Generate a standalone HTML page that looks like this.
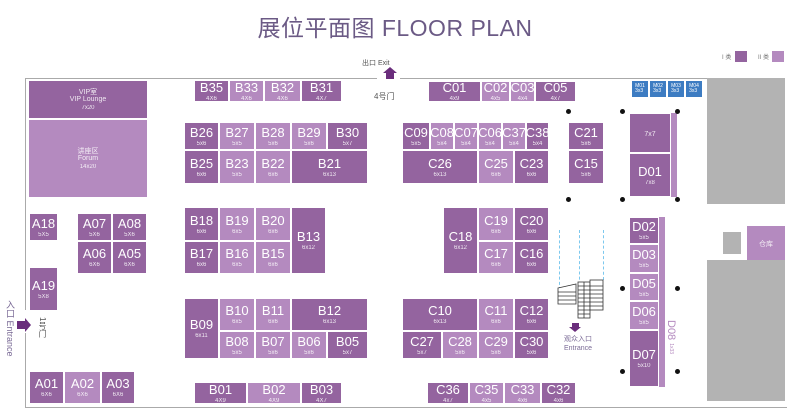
<!DOCTYPE html>
<html><head><meta charset="utf-8"><style>
*{margin:0;padding:0;box-sizing:border-box}
body{width:790px;height:411px;background:#fff;position:relative;overflow:hidden;font-family:"Liberation Sans","Noto Sans CJK SC",sans-serif}
.b{position:absolute;display:flex;flex-direction:column;align-items:center;justify-content:center;color:#fff;border:1px solid #fff;line-height:1;text-align:center}
.d{background:#94649f}.l{background:#b48abf}
.b i{font-style:normal;font-size:13px;letter-spacing:0}
.b s{text-decoration:none;font-size:6px;margin-top:2px;opacity:.85}
.g{position:absolute;background:#b3b3b3}
.dot{position:absolute;width:5px;height:5px;border-radius:50%;background:#111}
.ln{position:absolute;background:#aaa}
.m{position:absolute;background:#3d7cc2;color:#fff;font-size:5px;display:flex;flex-direction:column;align-items:center;justify-content:center;border:1px solid #fff;line-height:1.1}
</style></head><body>
<div style="position:absolute;left:0;width:790px;top:9px;text-align:center;font-size:23px;color:#6b5a85;letter-spacing:0.5px">展位平面图 FLOOR PLAN</div>
<div style="position:absolute;left:722px;top:52px;font-size:6px;color:#777">I 类</div><div style="position:absolute;left:735px;top:51px;width:12px;height:11px;background:#94649f"></div>
<div style="position:absolute;left:758px;top:52px;font-size:6px;color:#777">II 类</div><div style="position:absolute;left:772px;top:51px;width:12px;height:11px;background:#b48abf"></div>
<div style="position:absolute;left:362px;top:58px;font-size:7px;color:#555">出口 Exit</div>
<div style="position:absolute;left:383px;top:67px;width:0;height:0;border-left:7px solid transparent;border-right:7px solid transparent;border-bottom:6px solid #6a2d7c"></div>
<div style="position:absolute;left:386px;top:73px;width:8px;height:6px;background:#6a2d7c"></div>
<div style="position:absolute;left:374px;top:91px;font-size:8px;color:#555">4号门</div>
<div class="ln" style="left:25px;top:78px;width:352px;height:1px"></div>
<div class="ln" style="left:400px;top:78px;width:307px;height:1px"></div>
<div class="ln" style="left:25px;top:78px;width:1px;height:232px"></div>
<div class="ln" style="left:25px;top:333px;width:1px;height:75px"></div>
<div class="ln" style="left:25px;top:407px;width:762px;height:1px"></div>
<div class="g" style="left:707px;top:78px;width:78px;height:126px"></div>
<div class="g" style="left:723px;top:232px;width:18px;height:22px"></div>
<div class="g" style="left:707px;top:260px;width:78px;height:141px"></div>
<div class="b l" style="left:747px;top:226px;width:38px;height:34px;border:none"><s style="font-size:7px">仓库</s></div>
<div class="b d" style="left:28px;top:80px;width:120px;height:39px"><s style="font-size:7px;margin:0">VIP室<br>VIP Lounge</s><s>7x20</s></div>
<div class="b l" style="left:28px;top:119px;width:120px;height:79px"><s style="font-size:7px;margin:0">讲座区<br>Forum</s><s>14x20</s></div>
<div class="b d" style="left:194px;top:80px;width:35px;height:22px"><i>B35</i><s>4X6</s></div>
<div class="b l" style="left:229px;top:80px;width:35px;height:22px"><i>B33</i><s>4X6</s></div>
<div class="b l" style="left:264px;top:80px;width:37px;height:22px"><i>B32</i><s>4X6</s></div>
<div class="b d" style="left:301px;top:80px;width:41px;height:22px"><i>B31</i><s>4X7</s></div>
<div class="b d" style="left:184px;top:122px;width:35px;height:28px"><i>B26</i><s>5x6</s></div>
<div class="b l" style="left:219px;top:122px;width:36px;height:28px"><i>B27</i><s>5x5</s></div>
<div class="b l" style="left:255px;top:122px;width:36px;height:28px"><i>B28</i><s>5x6</s></div>
<div class="b l" style="left:291px;top:122px;width:36px;height:28px"><i>B29</i><s>5x6</s></div>
<div class="b d" style="left:327px;top:122px;width:41px;height:28px"><i>B30</i><s>5x7</s></div>
<div class="b d" style="left:184px;top:150px;width:35px;height:34px"><i>B25</i><s>6x6</s></div>
<div class="b l" style="left:219px;top:150px;width:36px;height:34px"><i>B23</i><s>5x5</s></div>
<div class="b l" style="left:255px;top:150px;width:36px;height:34px"><i>B22</i><s>6x6</s></div>
<div class="b d" style="left:291px;top:150px;width:77px;height:34px"><i>B21</i><s>6x13</s></div>
<div class="b d" style="left:29px;top:213px;width:29px;height:28px"><i>A18</i><s>5X5</s></div>
<div class="b d" style="left:77px;top:213px;width:35px;height:28px"><i>A07</i><s>5X6</s></div>
<div class="b d" style="left:112px;top:213px;width:35px;height:28px"><i>A08</i><s>5X6</s></div>
<div class="b d" style="left:77px;top:241px;width:35px;height:33px"><i>A06</i><s>6X6</s></div>
<div class="b d" style="left:112px;top:241px;width:35px;height:33px"><i>A05</i><s>6X6</s></div>
<div class="b d" style="left:29px;top:267px;width:29px;height:44px"><i>A19</i><s>5X8</s></div>
<div style="position:absolute;left:4px;top:300px;writing-mode:vertical-rl;font-size:9px;color:#7a6a96">入口 Entrance</div>
<div style="position:absolute;left:17px;top:321px;width:8px;height:8px;background:#6a2d7c"></div>
<div style="position:absolute;left:25px;top:318px;border-top:7px solid transparent;border-bottom:7px solid transparent;border-left:6px solid #6a2d7c"></div>
<div style="position:absolute;left:37px;top:317px;writing-mode:vertical-rl;font-size:8px;color:#555">1号门</div>
<div class="b d" style="left:29px;top:371px;width:35px;height:33px"><i>A01</i><s>6X6</s></div>
<div class="b l" style="left:64px;top:371px;width:37px;height:33px"><i>A02</i><s>6X6</s></div>
<div class="b d" style="left:101px;top:371px;width:34px;height:33px"><i>A03</i><s>6X6</s></div>
<div class="b d" style="left:184px;top:207px;width:35px;height:34px"><i>B18</i><s>6x6</s></div>
<div class="b l" style="left:219px;top:207px;width:36px;height:34px"><i>B19</i><s>6x5</s></div>
<div class="b l" style="left:255px;top:207px;width:36px;height:34px"><i>B20</i><s>6x6</s></div>
<div class="b d" style="left:184px;top:241px;width:35px;height:33px"><i>B17</i><s>6x6</s></div>
<div class="b l" style="left:219px;top:241px;width:36px;height:33px"><i>B16</i><s>6x5</s></div>
<div class="b l" style="left:255px;top:241px;width:36px;height:33px"><i>B15</i><s>6x6</s></div>
<div class="b d" style="left:291px;top:207px;width:35px;height:67px"><i>B13</i><s>6x12</s></div>
<div class="b d" style="left:184px;top:298px;width:35px;height:61px"><i>B09</i><s>6x11</s></div>
<div class="b l" style="left:219px;top:298px;width:36px;height:33px"><i>B10</i><s>6x5</s></div>
<div class="b l" style="left:255px;top:298px;width:36px;height:33px"><i>B11</i><s>6x6</s></div>
<div class="b d" style="left:291px;top:298px;width:77px;height:33px"><i>B12</i><s>6x13</s></div>
<div class="b l" style="left:219px;top:331px;width:36px;height:28px"><i>B08</i><s>5x5</s></div>
<div class="b l" style="left:255px;top:331px;width:36px;height:28px"><i>B07</i><s>5x6</s></div>
<div class="b l" style="left:291px;top:331px;width:36px;height:28px"><i>B06</i><s>5x6</s></div>
<div class="b d" style="left:327px;top:331px;width:41px;height:28px"><i>B05</i><s>5x7</s></div>
<div class="b d" style="left:194px;top:382px;width:53px;height:22px"><i>B01</i><s>4X9</s></div>
<div class="b l" style="left:247px;top:382px;width:54px;height:22px"><i>B02</i><s>4X9</s></div>
<div class="b d" style="left:301px;top:382px;width:41px;height:22px"><i>B03</i><s>4X7</s></div>
<div class="b d" style="left:428px;top:81px;width:53px;height:21px"><i>C01</i><s>4x9</s></div>
<div class="b l" style="left:481px;top:81px;width:29px;height:21px"><i>C02</i><s>4x5</s></div>
<div class="b l" style="left:510px;top:81px;width:25px;height:21px"><i>C03</i><s>4x4</s></div>
<div class="b d" style="left:535px;top:81px;width:41px;height:21px"><i>C05</i><s>4x7</s></div>
<div class="m" style="left:631px;top:80px;width:18px;height:18px">M01<br>3x3</div>
<div class="m" style="left:649px;top:80px;width:18px;height:18px">M02<br>3x3</div>
<div class="m" style="left:667px;top:80px;width:18px;height:18px">M03<br>3x3</div>
<div class="m" style="left:685px;top:80px;width:18px;height:18px">M04<br>3x3</div>
<div class="b d" style="left:402px;top:122px;width:28px;height:28px"><i>C09</i><s>5x5</s></div>
<div class="b l" style="left:430px;top:122px;width:24px;height:28px"><i>C08</i><s>5x4</s></div>
<div class="b l" style="left:454px;top:122px;width:24px;height:28px"><i>C07</i><s>5x4</s></div>
<div class="b l" style="left:478px;top:122px;width:24px;height:28px"><i>C06</i><s>5x4</s></div>
<div class="b l" style="left:502px;top:122px;width:24px;height:28px"><i>C37</i><s>5x4</s></div>
<div class="b d" style="left:526px;top:122px;width:23px;height:28px"><i>C38</i><s>5x4</s></div>
<div class="b d" style="left:402px;top:150px;width:76px;height:34px"><i>C26</i><s>6x13</s></div>
<div class="b l" style="left:478px;top:150px;width:36px;height:34px"><i>C25</i><s>6x6</s></div>
<div class="b d" style="left:514px;top:150px;width:35px;height:34px"><i>C23</i><s>6x6</s></div>
<div class="b d" style="left:568px;top:122px;width:36px;height:28px"><i>C21</i><s>5x6</s></div>
<div class="b d" style="left:568px;top:150px;width:36px;height:34px"><i>C15</i><s>5x6</s></div>
<div class="b d" style="left:629px;top:113px;width:42px;height:40px"><s style="font-size:7px">7x7</s></div>
<div class="b d" style="left:629px;top:153px;width:42px;height:44px"><i>D01</i><s>7x8</s></div>
<div class="b l" style="left:671px;top:113px;width:6px;height:84px;border:none"></div>
<div class="dot" style="left:566px;top:109px"></div><div class="dot" style="left:620px;top:109px"></div><div class="dot" style="left:675px;top:109px"></div>
<div class="dot" style="left:566px;top:197px"></div><div class="dot" style="left:620px;top:197px"></div><div class="dot" style="left:675px;top:197px"></div>
<div class="dot" style="left:620px;top:286px"></div><div class="dot" style="left:675px;top:286px"></div>
<div class="dot" style="left:620px;top:369px"></div><div class="dot" style="left:675px;top:369px"></div>
<div class="b d" style="left:443px;top:207px;width:35px;height:67px"><i>C18</i><s>6x12</s></div>
<div class="b l" style="left:478px;top:207px;width:36px;height:34px"><i>C19</i><s>6x6</s></div>
<div class="b d" style="left:514px;top:207px;width:35px;height:34px"><i>C20</i><s>6x6</s></div>
<div class="b l" style="left:478px;top:241px;width:36px;height:33px"><i>C17</i><s>6x6</s></div>
<div class="b d" style="left:514px;top:241px;width:35px;height:33px"><i>C16</i><s>6x6</s></div>
<div class="b d" style="left:402px;top:298px;width:76px;height:33px"><i>C10</i><s>6x13</s></div>
<div class="b l" style="left:478px;top:298px;width:36px;height:33px"><i>C11</i><s>6x6</s></div>
<div class="b d" style="left:514px;top:298px;width:35px;height:33px"><i>C12</i><s>6x6</s></div>
<div class="b d" style="left:402px;top:331px;width:40px;height:28px"><i>C27</i><s>5x7</s></div>
<div class="b l" style="left:442px;top:331px;width:36px;height:28px"><i>C28</i><s>5x6</s></div>
<div class="b l" style="left:478px;top:331px;width:36px;height:28px"><i>C29</i><s>5x6</s></div>
<div class="b d" style="left:514px;top:331px;width:35px;height:28px"><i>C30</i><s>5x6</s></div>
<div class="b d" style="left:427px;top:382px;width:42px;height:22px"><i>C36</i><s>4x7</s></div>
<div class="b l" style="left:469px;top:382px;width:35px;height:22px"><i>C35</i><s>4x5</s></div>
<div class="b l" style="left:504px;top:382px;width:37px;height:22px"><i>C33</i><s>4x6</s></div>
<div class="b d" style="left:541px;top:382px;width:35px;height:22px"><i>C32</i><s>4x6</s></div>
<div style="position:absolute;left:559px;top:230px;height:60px;border-left:1px dashed #7cc8ee"></div>
<div style="position:absolute;left:579px;top:230px;height:60px;border-left:1px dashed #7cc8ee"></div>
<div style="position:absolute;left:603px;top:230px;height:50px;border-left:1px dashed #7cc8ee"></div>
<svg style="position:absolute;left:556px;top:278px" width="50" height="42"><g fill="#fff" stroke="#333" stroke-width="0.8"><path d="M2 10 L20 6 L20 26 L2 26 Z"/><path d="M2 14H20M2 18H20M2 22H20"/><rect x="22" y="4" width="12" height="36"/><rect x="34" y="2" width="13" height="30"/><path d="M22 8H47M22 12H47M22 16H47M22 20H47M22 24H47M22 28H47M22 32H34M22 36H34M28 4V40"/></g></svg>
<div style="position:absolute;left:572px;top:323px;width:7px;height:4px;background:#6a2d7c"></div>
<div style="position:absolute;left:569px;top:327px;border-left:6px solid transparent;border-right:6px solid transparent;border-top:5px solid #6a2d7c"></div>
<div style="position:absolute;left:562px;top:335px;width:32px;text-align:center;font-size:7px;color:#7a6a96;line-height:1.3">观众入口<br>Entrance</div>
<div class="b d" style="left:629px;top:217px;width:30px;height:27px"><i>D02</i><s>5x5</s></div>
<div class="b l" style="left:629px;top:244px;width:30px;height:29px"><i>D03</i><s>5x5</s></div>
<div class="b l" style="left:629px;top:273px;width:30px;height:28px"><i>D05</i><s>5x5</s></div>
<div class="b l" style="left:629px;top:301px;width:30px;height:29px"><i>D06</i><s>5x5</s></div>
<div class="b d" style="left:629px;top:330px;width:30px;height:57px"><i>D07</i><s>5x10</s></div>
<div class="b l" style="left:659px;top:217px;width:6px;height:170px;border:none"></div>
<div style="position:absolute;left:665px;top:320px;writing-mode:vertical-rl;font-size:11px;color:#b48abf">D08 <span style="font-size:5px">1x33</span></div>
</body></html>
